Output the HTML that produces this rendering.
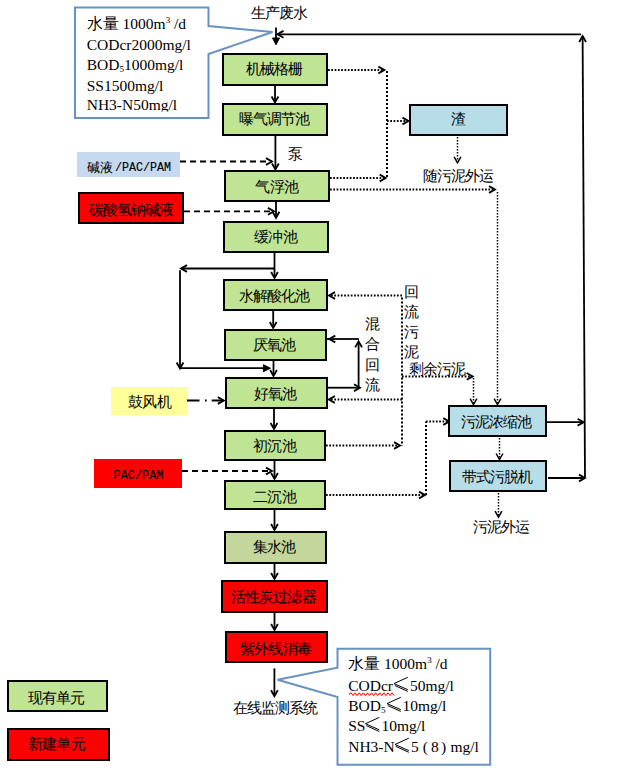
<!DOCTYPE html>
<html><head><meta charset="utf-8"><style>
html,body{margin:0;padding:0;background:#fff;}
svg{display:block;}
.c{font-family:"Liberation Sans",sans-serif;}
.m{font-family:"Liberation Mono",monospace;}
.tnr{font-family:"Liberation Serif",serif;}
</style></head><body>
<svg width="636" height="776" viewBox="0 0 636 776">
<rect width="636" height="776" fill="#fff"/>
<path d="M75,7.5 H208.5 V26 L272.6,32 L208.5,54 V118 H75 Z" fill="#fff" stroke="#6891C4" stroke-width="2"/>
<g class="tnr" font-size="15.5">
<text x="86.7" y="28.9"><tspan class="c" font-size="16">水量</tspan> 1000m<tspan font-size="9" dy="-6">3</tspan><tspan dy="6"> /d</tspan></text>
<text x="86.7" y="50.3">CODcr2000mg/l</text>
<text x="86.7" y="69.5">BOD<tspan font-size="9" dy="2">5</tspan><tspan dy="-2">1000mg/l</tspan></text>
<text x="86.7" y="90.9">SS1500mg/l</text>
<clipPath id="cl1"><rect x="0" y="0" width="300" height="111.6"/></clipPath>
<text x="86.7" y="110.1" clip-path="url(#cl1)">NH3-N50mg/l</text>
</g>
<text x="278.8" y="17.5" class="c" font-size="14.6" letter-spacing="-0.9" text-anchor="middle" >生产废水</text>
<rect x="223" y="54" width="104" height="31" fill="#BFE494" stroke="#000" stroke-width="2"/>
<text x="274.3" y="73.84" class="c" font-size="14.6" fill="#000" text-anchor="middle" letter-spacing="-0.9">机械格栅</text>
<rect x="223" y="104" width="104" height="31" fill="#BFE494" stroke="#000" stroke-width="2"/>
<text x="273.9" y="124.04" class="c" font-size="14.6" fill="#000" text-anchor="middle" letter-spacing="-0.9">曝气调节池</text>
<rect x="225" y="171" width="104" height="30" fill="#BFE494" stroke="#000" stroke-width="2"/>
<text x="276.6" y="191.54" class="c" font-size="14.6" fill="#000" text-anchor="middle" letter-spacing="-0.9">气浮池</text>
<rect x="224" y="222" width="104" height="30" fill="#BFE494" stroke="#000" stroke-width="2"/>
<text x="275.5" y="242.34" class="c" font-size="14.6" fill="#000" text-anchor="middle" letter-spacing="-0.9">缓冲池</text>
<rect x="224" y="280" width="103" height="30" fill="#BFE494" stroke="#000" stroke-width="2"/>
<text x="273.9" y="300.64000000000004" class="c" font-size="14.6" fill="#000" text-anchor="middle" letter-spacing="-0.9">水解酸化池</text>
<rect x="225" y="330" width="101" height="30" fill="#BFE494" stroke="#000" stroke-width="2"/>
<text x="274.0" y="350.44000000000005" class="c" font-size="14.6" fill="#000" text-anchor="middle" letter-spacing="-0.9">厌氧池</text>
<rect x="226" y="378" width="101" height="30" fill="#BFE494" stroke="#000" stroke-width="2"/>
<text x="275.0" y="398.84000000000003" class="c" font-size="14.6" fill="#000" text-anchor="middle" letter-spacing="-0.9">好氧池</text>
<rect x="225" y="431" width="100" height="29" fill="#BFE494" stroke="#000" stroke-width="2"/>
<text x="274.5" y="450.84000000000003" class="c" font-size="14.6" fill="#000" text-anchor="middle" letter-spacing="-0.9">初沉池</text>
<rect x="225" y="481" width="100" height="28" fill="#BFE494" stroke="#000" stroke-width="2"/>
<text x="274.5" y="501.74" class="c" font-size="14.6" fill="#000" text-anchor="middle" letter-spacing="-0.9">二沉池</text>
<rect x="225" y="532" width="101" height="31" fill="#C3D69B" stroke="#000" stroke-width="2"/>
<text x="273.9" y="551.8399999999999" class="c" font-size="14.6" fill="#000" text-anchor="middle" letter-spacing="-0.9">集水池</text>
<rect x="222" y="581" width="105" height="31" fill="#FF0000" stroke="#000" stroke-width="2"/>
<text x="273.4" y="601.54" class="c" font-size="14.6" fill="#000" text-anchor="middle" letter-spacing="-0.9">活性炭过滤器</text>
<rect x="226" y="632" width="101" height="30" fill="#FF0000" stroke="#000" stroke-width="2"/>
<text x="275.5" y="653.54" class="c" font-size="14.6" fill="#000" text-anchor="middle" letter-spacing="-0.9">紫外线消毒</text>
<path d="M276,27.5 L276,39" fill="none" stroke="#000" stroke-width="1.8"/>
<path d="M272.5,38.0 L276,44.8 L279.5,38.0 Z" fill="#000" stroke="#000" stroke-width="1"/>
<path d="M275,86 L275,102.0" fill="none" stroke="#000" stroke-width="1.8"/>
<path d="M271.6,96.5 L275,102.5 L278.4,96.5" fill="none" stroke="#000" stroke-width="1.8" stroke-linecap="butt" stroke-linejoin="miter"/>
<path d="M275.4,136 L275.4,169.0" fill="none" stroke="#000" stroke-width="1.8"/>
<path d="M272.0,163.5 L275.4,169.5 L278.79999999999995,163.5" fill="none" stroke="#000" stroke-width="1.8" stroke-linecap="butt" stroke-linejoin="miter"/>
<path d="M276,202 L276,217.3" fill="none" stroke="#000" stroke-width="1.8"/>
<path d="M272.6,211.8 L276,217.8 L279.4,211.8" fill="none" stroke="#000" stroke-width="1.8" stroke-linecap="butt" stroke-linejoin="miter"/>
<path d="M274.5,253 L274.5,277.5" fill="none" stroke="#000" stroke-width="1.8"/>
<path d="M271.1,272 L274.5,278 L277.9,272" fill="none" stroke="#000" stroke-width="1.8" stroke-linecap="butt" stroke-linejoin="miter"/>
<path d="M273.2,311 L273.2,327.5" fill="none" stroke="#000" stroke-width="1.8"/>
<path d="M269.8,322 L273.2,328 L276.59999999999997,322" fill="none" stroke="#000" stroke-width="1.8" stroke-linecap="butt" stroke-linejoin="miter"/>
<path d="M273.5,361 L273.5,375.5" fill="none" stroke="#000" stroke-width="1.8"/>
<path d="M270.1,370 L273.5,376 L276.9,370" fill="none" stroke="#000" stroke-width="1.8" stroke-linecap="butt" stroke-linejoin="miter"/>
<path d="M274,409 L274,428.5" fill="none" stroke="#000" stroke-width="1.8"/>
<path d="M270.6,423 L274,429 L277.4,423" fill="none" stroke="#000" stroke-width="1.8" stroke-linecap="butt" stroke-linejoin="miter"/>
<path d="M274.5,461 L274.5,478.5" fill="none" stroke="#000" stroke-width="1.8"/>
<path d="M271.1,473 L274.5,479 L277.9,473" fill="none" stroke="#000" stroke-width="1.8" stroke-linecap="butt" stroke-linejoin="miter"/>
<path d="M274.5,510 L274.5,529.5" fill="none" stroke="#000" stroke-width="1.8"/>
<path d="M271.1,524 L274.5,530 L277.9,524" fill="none" stroke="#000" stroke-width="1.8" stroke-linecap="butt" stroke-linejoin="miter"/>
<path d="M274.5,564 L274.5,578.5" fill="none" stroke="#000" stroke-width="1.8"/>
<path d="M271.1,573 L274.5,579 L277.9,573" fill="none" stroke="#000" stroke-width="1.8" stroke-linecap="butt" stroke-linejoin="miter"/>
<path d="M274.5,612 L274.5,629.5" fill="none" stroke="#000" stroke-width="1.8"/>
<path d="M271.1,624 L274.5,630 L277.9,624" fill="none" stroke="#000" stroke-width="1.8" stroke-linecap="butt" stroke-linejoin="miter"/>
<path d="M274.4,668.4 L274.4,695.7" fill="none" stroke="#000" stroke-width="1.8"/>
<path d="M271.0,690.2 L274.4,696.2 L277.79999999999995,690.2" fill="none" stroke="#000" stroke-width="1.8" stroke-linecap="butt" stroke-linejoin="miter"/>
<path d="M277.5,34.3 L581,34.3" fill="none" stroke="#000" stroke-width="1.8"/>
<path d="M283.5,30.9 L277.5,34.3 L283.5,37.699999999999996" fill="none" stroke="#000" stroke-width="1.8" stroke-linecap="butt" stroke-linejoin="miter"/>
<path d="M585,477.5 L582.6,36" fill="none" stroke="#000" stroke-width="1.8"/>
<path d="M579.2,42 L582.6,36 L586.0,42" fill="none" stroke="#000" stroke-width="1.8" stroke-linecap="butt" stroke-linejoin="miter"/>
<text x="295" y="158.8" class="c" font-size="14.6" letter-spacing="-0.9" text-anchor="middle" >泵</text>
<rect x="77" y="152" width="103" height="25" fill="#C6D9F0"/>
<text x="87" y="171.5" font-size="13" class="c">碱液</text><text x="115" y="171.4" font-size="12" class="m" textLength="56" lengthAdjust="spacingAndGlyphs" stroke="#000" stroke-width="0.15">/PAC/PAM</text>
<path d="M180,161.5 L272,161.5" fill="none" stroke="#000" stroke-width="1.8" stroke-dasharray="6 4"/>
<path d="M266,158.1 L272,161.5 L266,164.9" fill="none" stroke="#000" stroke-width="1.8" stroke-linecap="butt" stroke-linejoin="miter"/>
<rect x="79" y="193" width="104" height="30" fill="#FF0000" stroke="#000" stroke-width="2"/>
<text x="131.0" y="215.3" class="c" font-size="14.6" fill="#000" text-anchor="middle" letter-spacing="-0.9">碳酸氢钠碱液</text>
<path d="M184,211.3 L273.9,211.3" fill="none" stroke="#000" stroke-width="1.8" stroke-dasharray="6 4"/>
<path d="M267.9,207.9 L273.9,211.3 L267.9,214.70000000000002" fill="none" stroke="#000" stroke-width="1.8" stroke-linecap="butt" stroke-linejoin="miter"/>
<rect x="111" y="387" width="77" height="28" fill="#FFFF99"/>
<text x="149.5" y="407.3" class="c" font-size="14.6" letter-spacing="-0.9" text-anchor="middle" >鼓风机</text>
<path d="M187,400.5 L223.5,400.5" fill="none" stroke="#000" stroke-width="1.8" stroke-dasharray="12.5 5.5 1.7 5 30"/>
<path d="M217.8,397.1 L223.8,400.5 L217.8,403.9" fill="none" stroke="#000" stroke-width="1.8" stroke-linecap="butt" stroke-linejoin="miter"/>
<rect x="94" y="459" width="88" height="29" fill="#FF0000"/>
<text x="113.5" y="478.5" font-size="12" class="m" textLength="50" lengthAdjust="spacingAndGlyphs" stroke="#000" stroke-width="0.15">PAC/PAM</text>
<path d="M182,471 L272,471" fill="none" stroke="#000" stroke-width="1.8" stroke-dasharray="6 4"/>
<path d="M266,467.6 L272,471 L266,474.4" fill="none" stroke="#000" stroke-width="1.8" stroke-linecap="butt" stroke-linejoin="miter"/>
<path d="M274.5,268.5 L181.5,268.5" fill="none" stroke="#000" stroke-width="1.8"/>
<path d="M187,265.1 L181,268.5 L187,271.9" fill="none" stroke="#000" stroke-width="1.8" stroke-linecap="butt" stroke-linejoin="miter"/>
<path d="M180,270.3 L180,367" fill="none" stroke="#000" stroke-width="1.8"/>
<path d="M176.6,362.5 L180,368.5 L183.4,362.5" fill="none" stroke="#000" stroke-width="1.8" stroke-linecap="butt" stroke-linejoin="miter"/>
<path d="M180,368.2 L264,368.2" fill="none" stroke="#000" stroke-width="1.8"/>
<path d="M263.4,364.7 L270.4,368.2 L263.4,371.7 Z" fill="#000" stroke="#000" stroke-width="1"/>
<path d="M328,70 L384,70" fill="none" stroke="#000" stroke-width="2" stroke-dasharray="1.7 1.6"/>
<path d="M378.4,66.6 L384.4,70 L378.4,73.4" fill="none" stroke="#000" stroke-width="1.8" stroke-linecap="butt" stroke-linejoin="miter"/>
<path d="M387,71 L387,178" fill="none" stroke="#000" stroke-width="2" stroke-dasharray="2 2"/>
<path d="M387,121 L408,121" fill="none" stroke="#000" stroke-width="2" stroke-dasharray="1.7 1.6"/>
<path d="M402.5,117.6 L408.5,121 L402.5,124.4" fill="none" stroke="#000" stroke-width="1.8" stroke-linecap="butt" stroke-linejoin="miter"/>
<path d="M330,178 L385,178" fill="none" stroke="#000" stroke-width="2" stroke-dasharray="1.7 1.6"/>
<path d="M379.7,174.6 L385.7,178 L379.7,181.4" fill="none" stroke="#000" stroke-width="1.8" stroke-linecap="butt" stroke-linejoin="miter"/>
<path d="M330,189.5 L494.5,189.5" fill="none" stroke="#000" stroke-width="2" stroke-dasharray="1.7 1.6"/>
<path d="M489,186.1 L495,189.5 L489,192.9" fill="none" stroke="#000" stroke-width="1.8" stroke-linecap="butt" stroke-linejoin="miter"/>
<path d="M497.5,192 L497.5,403" fill="none" stroke="#000" stroke-width="1.5" stroke-dasharray="1.5 1.5"/>
<path d="M494.1,398.6 L497.5,404.6 L500.9,398.6" fill="none" stroke="#000" stroke-width="1.5" stroke-linecap="butt" stroke-linejoin="miter"/>
<rect x="410" y="105" width="97" height="30" fill="#B7DDE8" stroke="#000" stroke-width="2"/>
<text x="458.5" y="124.34" class="c" font-size="14.6" fill="#000" text-anchor="middle" letter-spacing="-0.9">渣</text>
<path d="M457.5,137 L457.5,161.5" fill="none" stroke="#000" stroke-width="1.5" stroke-dasharray="1.5 1.5"/>
<path d="M454.1,156.8 L457.5,162.8 L460.9,156.8" fill="none" stroke="#000" stroke-width="1.5" stroke-linecap="butt" stroke-linejoin="miter"/>
<text x="458" y="180.8" class="c" font-size="14.6" letter-spacing="-0.9" text-anchor="middle" >随污泥外运</text>
<path d="M402,295.5 L330,295.5" fill="none" stroke="#000" stroke-width="2" stroke-dasharray="1.7 1.6"/>
<path d="M335,292.1 L329,295.5 L335,298.9" fill="none" stroke="#000" stroke-width="1.8" stroke-linecap="butt" stroke-linejoin="miter"/>
<path d="M402,297.5 L402,446" fill="none" stroke="#000" stroke-width="2" stroke-dasharray="2 2"/>
<path d="M402,399.5 L330,399.5" fill="none" stroke="#000" stroke-width="2" stroke-dasharray="1.7 1.6"/>
<path d="M334.8,396.1 L328.8,399.5 L334.8,402.9" fill="none" stroke="#000" stroke-width="1.8" stroke-linecap="butt" stroke-linejoin="miter"/>
<path d="M326,445.5 L399,445.5" fill="none" stroke="#000" stroke-width="2" stroke-dasharray="1.7 1.6"/>
<path d="M394,442.1 L400,445.5 L394,448.9" fill="none" stroke="#000" stroke-width="1.8" stroke-linecap="butt" stroke-linejoin="miter"/>
<path d="M402,376.4 L472.5,376.4" fill="none" stroke="#000" stroke-width="2" stroke-dasharray="1.7 1.6"/>
<path d="M466.7,373.0 L472.7,376.4 L466.7,379.79999999999995" fill="none" stroke="#000" stroke-width="1.8" stroke-linecap="butt" stroke-linejoin="miter"/>
<path d="M473.5,378 L473.5,403" fill="none" stroke="#000" stroke-width="1.5" stroke-dasharray="1.5 1.5"/>
<path d="M470.1,398.6 L473.5,404.6 L476.9,398.6" fill="none" stroke="#000" stroke-width="1.5" stroke-linecap="butt" stroke-linejoin="miter"/>
<path d="M326,495 L425,495" fill="none" stroke="#000" stroke-width="2" stroke-dasharray="1.7 1.6"/>
<path d="M419,491.6 L425,495 L419,498.4" fill="none" stroke="#000" stroke-width="1.8" stroke-linecap="butt" stroke-linejoin="miter"/>
<path d="M426,495 L426,421.5" fill="none" stroke="#000" stroke-width="2" stroke-dasharray="2 2"/>
<path d="M426,421.5 L448,421.5" fill="none" stroke="#000" stroke-width="2" stroke-dasharray="1.7 1.6"/>
<path d="M443.3,418.1 L449.3,421.5 L443.3,424.9" fill="none" stroke="#000" stroke-width="1.8" stroke-linecap="butt" stroke-linejoin="miter"/>
<path d="M327,339 L358.9,339" fill="none" stroke="#000" stroke-width="1.8"/>
<path d="M335.3,335.6 L329.3,339 L335.3,342.4" fill="none" stroke="#000" stroke-width="1.8" stroke-linecap="butt" stroke-linejoin="miter"/>
<path d="M358.6,387.5 L358.6,342" fill="none" stroke="#000" stroke-width="1.8"/>
<path d="M355.20000000000005,347.4 L358.6,341.4 L362.0,347.4" fill="none" stroke="#000" stroke-width="1.8" stroke-linecap="butt" stroke-linejoin="miter"/>
<path d="M328,387.7 L359,387.7" fill="none" stroke="#000" stroke-width="1.8"/>
<path d="M354,384.3 L360,387.7 L354,391.09999999999997" fill="none" stroke="#000" stroke-width="1.8" stroke-linecap="butt" stroke-linejoin="miter"/>
<text x="410.7" y="296.90000000000003" class="c" font-size="14.6" letter-spacing="-0.9" text-anchor="middle" >回</text>
<text x="410.7" y="317.00000000000006" class="c" font-size="14.6" letter-spacing="-0.9" text-anchor="middle" >流</text>
<text x="410.7" y="337.1" class="c" font-size="14.6" letter-spacing="-0.9" text-anchor="middle" >污</text>
<text x="410.7" y="357.20000000000005" class="c" font-size="14.6" letter-spacing="-0.9" text-anchor="middle" >泥</text>
<text x="371.7" y="328.90000000000003" class="c" font-size="14.6" letter-spacing="-0.9" text-anchor="middle" >混</text>
<text x="371.7" y="349.20000000000005" class="c" font-size="14.6" letter-spacing="-0.9" text-anchor="middle" >合</text>
<text x="371.7" y="369.50000000000006" class="c" font-size="14.6" letter-spacing="-0.9" text-anchor="middle" >回</text>
<text x="371.7" y="389.8" class="c" font-size="14.6" letter-spacing="-0.9" text-anchor="middle" >流</text>
<text x="437" y="373.8" class="c" font-size="14.6" letter-spacing="-0.9" text-anchor="middle" >剩余污泥</text>
<rect x="449" y="406" width="97" height="30" fill="#B7DDE8" stroke="#000" stroke-width="2"/>
<text x="496" y="426.8" class="c" font-size="14.6" fill="#000" text-anchor="middle" letter-spacing="-0.9">污泥浓缩池</text>
<rect x="450" y="461" width="96" height="30" fill="#B7DDE8" stroke="#000" stroke-width="2"/>
<text x="497" y="482.3" class="c" font-size="14.6" fill="#000" text-anchor="middle" letter-spacing="-0.9">带式污脱机</text>
<path d="M547,422.2 L583,422.2" fill="none" stroke="#000" stroke-width="1.8"/>
<path d="M577.6,418.8 L583.6,422.2 L577.6,425.59999999999997" fill="none" stroke="#000" stroke-width="1.8" stroke-linecap="butt" stroke-linejoin="miter"/>
<path d="M548,478 L584,478" fill="none" stroke="#000" stroke-width="1.8"/>
<path d="M579,474.6 L585,478 L579,481.4" fill="none" stroke="#000" stroke-width="1.8" stroke-linecap="butt" stroke-linejoin="miter"/>
<path d="M499.5,438 L499.5,458.5" fill="none" stroke="#000" stroke-width="1.5" stroke-dasharray="1.5 1.5"/>
<path d="M496.1,453.5 L499.5,459.5 L502.9,453.5" fill="none" stroke="#000" stroke-width="1.5" stroke-linecap="butt" stroke-linejoin="miter"/>
<path d="M498.5,493 L498.5,516" fill="none" stroke="#000" stroke-width="1.5" stroke-dasharray="1.5 1.5"/>
<path d="M495.1,511.20000000000005 L498.5,517.2 L501.9,511.20000000000005" fill="none" stroke="#000" stroke-width="1.5" stroke-linecap="butt" stroke-linejoin="miter"/>
<text x="501.3" y="531.8" class="c" font-size="14.6" letter-spacing="-0.9" text-anchor="middle" >污泥外运</text>
<text x="275" y="713.3" class="c" font-size="14.6" letter-spacing="-0.9" text-anchor="middle" >在线监测系统</text>
<path d="M337.5,648.8 H490.2 V764.7 H337.5 V697 L277.5,679.7 L337.5,667.7 Z" fill="#fff" stroke="#6891C4" stroke-width="2"/>
<g class="tnr" font-size="15.5">
<text x="348.2" y="669.4"><tspan class="c" font-size="16">水量</tspan> 1000m<tspan font-size="9" dy="-6">3</tspan><tspan dy="6"> /d</tspan></text>
<text x="348.2" y="690.8">CODcr</text>
<path d="M407.8,677.3 L394,683.5999999999999 L407.8,689.6999999999999 M394.8,685.5 L407.8,691.4" fill="none" stroke="#000" stroke-width="1"/>
<text x="410" y="690.8">50mg/l</text>
<text x="348.2" y="710.8">BOD<tspan font-size="9" dy="2">5</tspan></text>
<path d="M400.8,697.3 L387,703.5999999999999 L400.8,709.6999999999999 M387.8,705.5 L400.8,711.4" fill="none" stroke="#000" stroke-width="1"/>
<text x="402.5" y="710.8">10mg/l</text>
<text x="348.2" y="730.9">SS</text>
<path d="M379.3,717.4 L365.5,723.6999999999999 L379.3,729.8 M366.3,725.6 L379.3,731.5" fill="none" stroke="#000" stroke-width="1"/>
<text x="381.5" y="730.9">10mg/l</text>
<text x="348.2" y="751.7">NH3-N</text>
<path d="M408.8,738.2 L395,744.5 L408.8,750.6 M395.8,746.4000000000001 L408.8,752.3000000000001" fill="none" stroke="#000" stroke-width="1"/>
<text x="411" y="751.7">5</text>
<text x="422.8" y="751.7">(</text>
<text x="431" y="751.7">8</text>
<text x="441" y="751.7">)</text>
<text x="450.5" y="751.7">mg/l</text>
</g>
<path d="M349,694.5 L351.1,692.8 L353.1,695.6 L355.2,692.8 L357.2,695.6 L359.3,692.8 L361.3,695.6 L363.4,692.8 L365.4,695.6 L367.5,692.8 L369.5,695.6 L371.6,692.8 L373.6,695.6 L375.7,692.8 L377.7,695.6 L379.8,692.8 L381.8,695.6 L383.9,692.8 L385.9,695.6 L388.0,692.8 L390.0,695.6 L392.1,692.8 L394.1,695.6" fill="none" stroke="#FF0000" stroke-width="1"/>
<rect x="8" y="681" width="99" height="30" fill="#BFE494" stroke="#000" stroke-width="2"/>
<text x="56" y="702.8" class="c" font-size="14.6" fill="#000" text-anchor="middle" letter-spacing="-0.9">现有单元</text>
<rect x="8" y="729" width="101" height="31" fill="#FF0000" stroke="#000" stroke-width="2"/>
<text x="56.5" y="749.3" class="c" font-size="14.6" fill="#000" text-anchor="middle" letter-spacing="-0.9">新建单元</text>
</svg>
</body></html>
